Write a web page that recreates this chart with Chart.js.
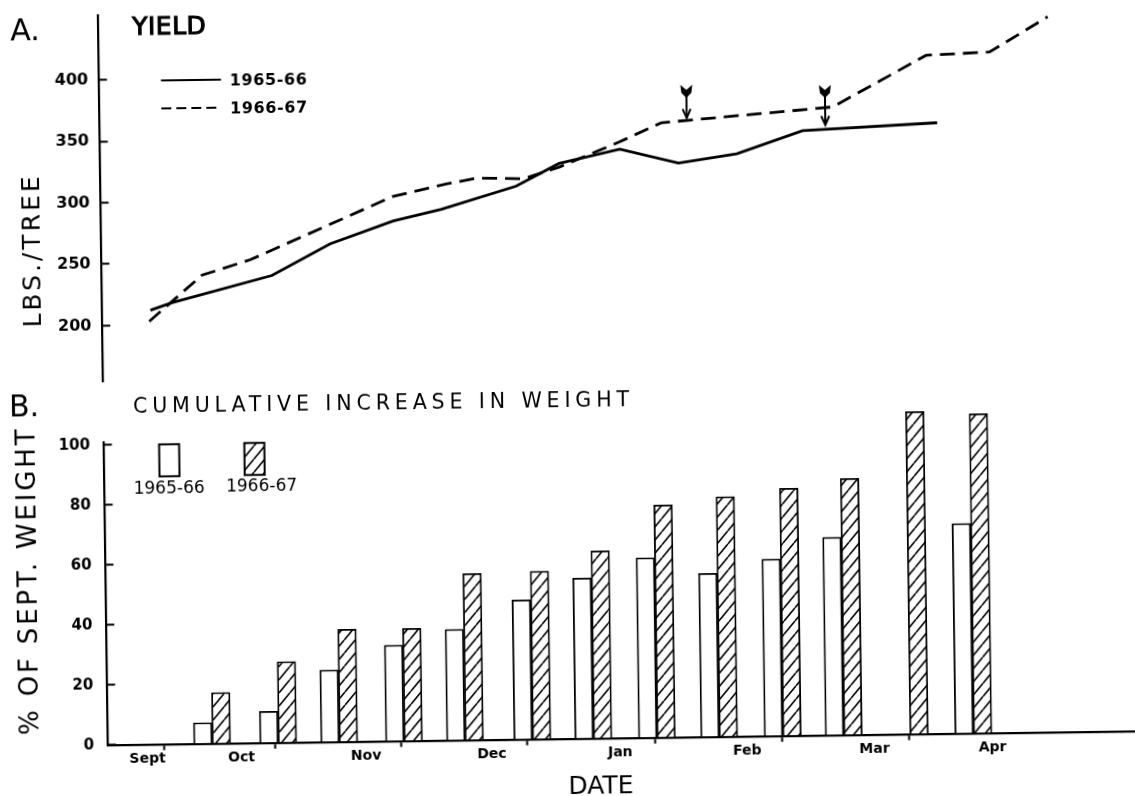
<!DOCTYPE html>
<html>
<head>
<meta charset="utf-8">
<script src="https://cdn.jsdelivr.net/npm/chart.js"></script>
<style>
  html, body { margin: 0; padding: 0; background: #fff; overflow: hidden; }
  #sheet { position: absolute; left: 0; top: 0; width: 1135px; height: 796px;
           transform: rotate(-0.7735deg); transform-origin: 567px 398px; }
  #sheet canvas { position: absolute; left: 0; top: 0; }
</style>
</head>
<body>
<div id="sheet">
  <canvas id="yieldChart" width="1135" height="796"></canvas>
  <canvas id="weightChart" width="1135" height="796"></canvas>
</div>
<script>
// Dates are in months after 1 September (1 = 1 Oct, 2 = 1 Nov, ... 7 = 1 Apr).
const seriesNames = ['1965-66', '1966-67'];

// A. Yield, lbs. per tree
const yieldDates6566 = [0.80, 0.97, 1.76, 2.22, 2.72, 3.10, 3.69, 4.03, 4.51, 4.97, 5.43, 5.95, 7.01];
const yield6566      = [212, 218, 239, 264, 282, 291, 309, 327, 338, 326, 333, 351, 356];
const yieldDates6667 = [0.79, 1.21, 1.59, 2.72, 3.14, 3.38, 3.75, 4.03, 4.51, 4.84, 6.19, 6.93, 7.43, 7.89];
const yield6667      = [203, 240, 252, 302, 311.5, 316, 315, 324, 344, 359, 370, 411, 413, 441];
const yieldTicks = [200, 250, 300, 350, 400];

// Marked dates on the 1966-67 curve (arrow tail and tip, lbs./tree)
const arrowDates = [5.04, 6.13];
const arrowTails = [389.5, 388];
const arrowTips  = [362.6, 355.4];

// B. Cumulative increase in weight, % of September weight
const sampleDates = [1.24, 1.76, 2.24, 2.75, 3.23, 3.76, 4.24, 4.74, 5.23, 5.73, 6.21, 6.73, 7.23];
const gain6566 = [7, 10.5, 24, 32, 37, 46.5, 53.5, 60, 54.5, 59, 66, null, 70];
const gain6667 = [17, 27, 37.5, 37.5, 55.5, 56, 62.5, 77.5, 80, 82.5, 85.5, 107.5, 106.5];
const gainTicks = [0, 20, 40, 60, 80, 100];

// Month axis: tick marks at month boundaries, names inside each month
const monthStarts = [1, 2, 3, 4, 5, 6, 7];
const monthNames  = ['Sept', 'Oct', 'Nov', 'Dec', 'Jan', 'Feb', 'Mar', 'Apr'];
const monthNameAt = [0.73, 1.47, 2.45, 3.44, 4.45, 5.45, 6.45, 7.38];

// visible date range shared by both panels
const X_MIN = 0.42, X_MAX = 8.506;
const FONT = '"DejaVu Sans"';

Chart.defaults.font.family = FONT;
Chart.defaults.color = '#000';

function hatchPattern() {
  const w = 11, h = 13;
  const c = document.createElement('canvas');
  c.width = w; c.height = h;
  const g = c.getContext('2d');
  g.fillStyle = '#fff';
  g.fillRect(0, 0, w, h);
  g.strokeStyle = '#000';
  g.lineWidth = 1.6;
  g.beginPath();
  for (const dx of [-w, 0, w]) { g.moveTo(dx, h); g.lineTo(dx + w, 0); }
  g.stroke();
  return g.createPattern(c, 'repeat');
}

function label(ctx, text, x, y, size, weight, o = {}) {
  const sp = o.spacing || 0;
  ctx.save();
  ctx.translate(x, y);
  if (o.rotate) ctx.rotate(o.rotate);
  ctx.font = `${weight} ${size}px ${FONT}`;
  if ('letterSpacing' in ctx) ctx.letterSpacing = sp + 'px';
  ctx.fillStyle = '#000';
  ctx.textAlign = o.align || 'center';
  ctx.textBaseline = 'alphabetic';
  const tx = (o.align === 'left') ? 0 : sp / 2, ty = 0.365 * size;
  ctx.fillText(text, tx, ty);
  if (o.stroke) {
    ctx.strokeStyle = '#000';
    ctx.lineWidth = o.stroke;
    ctx.strokeText(text, tx, ty);
  }
  ctx.restore();
}

function drawArrow(ctx, x, yTail, yTip) {
  ctx.save();
  ctx.strokeStyle = '#000';
  ctx.fillStyle = '#000';
  ctx.lineWidth = 2;
  ctx.beginPath();
  ctx.moveTo(x, yTail + 6);
  ctx.lineTo(x, yTip);
  ctx.stroke();
  ctx.beginPath();
  ctx.moveTo(x - 4, yTip - 9);
  ctx.lineTo(x, yTip);
  ctx.lineTo(x + 4, yTip - 9);
  ctx.stroke();
  ctx.beginPath();
  ctx.moveTo(x - 6, yTail);
  ctx.lineTo(x, yTail + 5);
  ctx.lineTo(x + 6, yTail);
  ctx.lineTo(x + 5, yTail + 8);
  ctx.lineTo(x, yTail + 13);
  ctx.lineTo(x - 5, yTail + 8);
  ctx.closePath();
  ctx.fill();
  ctx.restore();
}

// fixed axis band width; no extra room reserved for the end labels
const fixWidth = w => s => { s.width = w; s.paddingTop = 0; s.paddingBottom = 0; };
const fixHeight = h => s => { s.height = h; s.paddingLeft = 0; s.paddingRight = 0; };

const yieldDecor = {
  id: 'yieldDecor',
  afterDraw(chart) {
    const { ctx, scales: { x, y } } = chart;
    label(ctx, 'A.', 30, 21.7, 30, 'normal');
    label(ctx, 'YIELD', 174, 19.6, 25, 'normal', { stroke: 1.1, spacing: 0.5 });
    const rows = [75, 103];
    chart.data.datasets.forEach((ds, i) => {
      ctx.save();
      ctx.strokeStyle = '#000';
      ctx.lineWidth = 2.2;
      ctx.setLineDash(ds.borderDash ? [10, 5] : []);
      ctx.beginPath();
      ctx.moveTo(165.3, rows[i]);
      ctx.lineTo(225.3, rows[i]);
      ctx.stroke();
      ctx.restore();
      label(ctx, ds.label, 234, rows[i], 16, 'bold', { align: 'left', spacing: 0.6 });
    });
    label(ctx, 'LBS./TREE', 33, 244.8, 25, 'normal', { rotate: -Math.PI / 2, spacing: 3 });
    arrowDates.forEach((d, i) => {
      drawArrow(ctx, x.getPixelForValue(d), y.getPixelForValue(arrowTails[i]), y.getPixelForValue(arrowTips[i]));
    });
  }
};

const weightDecor = {
  id: 'weightDecor',
  afterDraw(chart) {
    const { ctx } = chart;
    label(ctx, 'B.', 24.1, 397.7, 30, 'normal');
    label(ctx, 'CUMULATIVE INCREASE IN WEIGHT', 133, 399.4, 20.5, 'normal', { align: 'left', spacing: 4.9 });
    const boxes = [[168.5, 454.9], [253.7, 454.7]];
    const texts = [[168, 481.3], [260.5, 480.9]];
    chart.data.datasets.forEach((ds, i) => {
      const [cx, cy] = boxes[i];
      ctx.save();
      ctx.fillStyle = ds.backgroundColor;
      ctx.fillRect(cx - 10, cy - 16, 20, 32);
      ctx.strokeStyle = '#000';
      ctx.lineWidth = 2;
      ctx.strokeRect(cx - 10, cy - 16, 20, 32);
      ctx.restore();
      label(ctx, ds.label, texts[i][0], texts[i][1], 17, 'normal');
    });
    label(ctx, '% OF SEPT. WEIGHT', 25, 575, 26, 'normal', { rotate: -Math.PI / 2, spacing: 2.85 });
    label(ctx, 'DATE', 595.8, 784.5, 25, 'normal');
  }
};

const points = (xs, ys) => xs.map((d, i) => ({ x: d, y: ys[i] }));

new Chart(document.getElementById('yieldChart'), {
  type: 'line',
  data: {
    datasets: [
      { label: seriesNames[0], data: points(yieldDates6566, yield6566),
        borderColor: '#000', borderWidth: 2.8, pointRadius: 0, fill: false, tension: 0 },
      { label: seriesNames[1], data: points(yieldDates6667, yield6667),
        borderColor: '#000', borderWidth: 2.8, borderDash: [15, 8], pointRadius: 0, fill: false, tension: 0 }
    ]
  },
  options: {
    responsive: false, animation: false, devicePixelRatio: 1,
    layout: { padding: { left: 0, right: 4, top: 8.7, bottom: 420.3 } },
    plugins: { legend: { display: false }, tooltip: { enabled: false } },
    scales: {
      x: { type: 'linear', display: false, min: X_MIN, max: X_MAX },
      y: {
        type: 'linear', min: 154.2, max: 452.9,
        afterBuildTicks: s => { s.ticks = yieldTicks.map(v => ({ value: v })); },
        afterFit: fixWidth(103.3),
        ticks: { font: { size: 16, weight: 'bold' }, color: '#000', padding: 18.9 },
        grid: { drawOnChartArea: false, tickLength: -8, tickWidth: 2, tickColor: '#000' },
        border: { display: true, color: '#000', width: 2.2 }
      }
    }
  },
  plugins: [yieldDecor]
});

const hatch = hatchPattern();

new Chart(document.getElementById('weightChart'), {
  type: 'bar',
  data: {
    datasets: [
      { label: seriesNames[0], data: points(sampleDates, gain6566),
        backgroundColor: '#fff', borderColor: '#000', borderWidth: 1.8, barThickness: 18.5, clip: false },
      { label: seriesNames[1], data: points(sampleDates, gain6667),
        backgroundColor: hatch, borderColor: '#000', borderWidth: 1.8, barThickness: 18.5, clip: false }
    ]
  },
  options: {
    responsive: false, animation: false, devicePixelRatio: 1,
    layout: { padding: { left: 0, right: 4, top: 435.8, bottom: 0 } },
    plugins: { legend: { display: false }, tooltip: { enabled: false } },
    scales: {
      x: {
        type: 'linear', min: X_MIN, max: X_MAX, offset: false,
        afterBuildTicks: s => {
          s.ticks = monthStarts.concat(monthNameAt).sort((a, b) => a - b).map(v => ({ value: v }));
        },
        afterFit: fixHeight(57.3),
        ticks: {
          autoSkip: false, maxRotation: 0, minRotation: 0, padding: 0,
          font: { size: 14, weight: 'bold' }, color: '#000',
          callback: v => { const i = monthNameAt.indexOf(v); return i >= 0 ? monthNames[i] : ''; }
        },
        grid: {
          drawOnChartArea: false, tickLength: 6, tickWidth: 2,
          tickColor: c => (c.tick && monthStarts.includes(c.tick.value)) ? '#000' : 'rgba(0,0,0,0)'
        },
        border: { display: true, color: '#000', width: 2.2 }
      },
      y: {
        type: 'linear', min: 0, max: 101,
        afterBuildTicks: s => { s.ticks = gainTicks.map(v => ({ value: v })); },
        afterFit: fixWidth(103.3),
        ticks: { font: { size: 15, weight: 'bold' }, color: '#000', padding: 21.9 },
        grid: { drawOnChartArea: false, tickLength: -8, tickWidth: 2, tickColor: '#000' },
        border: { display: true, color: '#000', width: 2.2 }
      }
    }
  },
  plugins: [weightDecor]
});
</script>
</body>
</html>
